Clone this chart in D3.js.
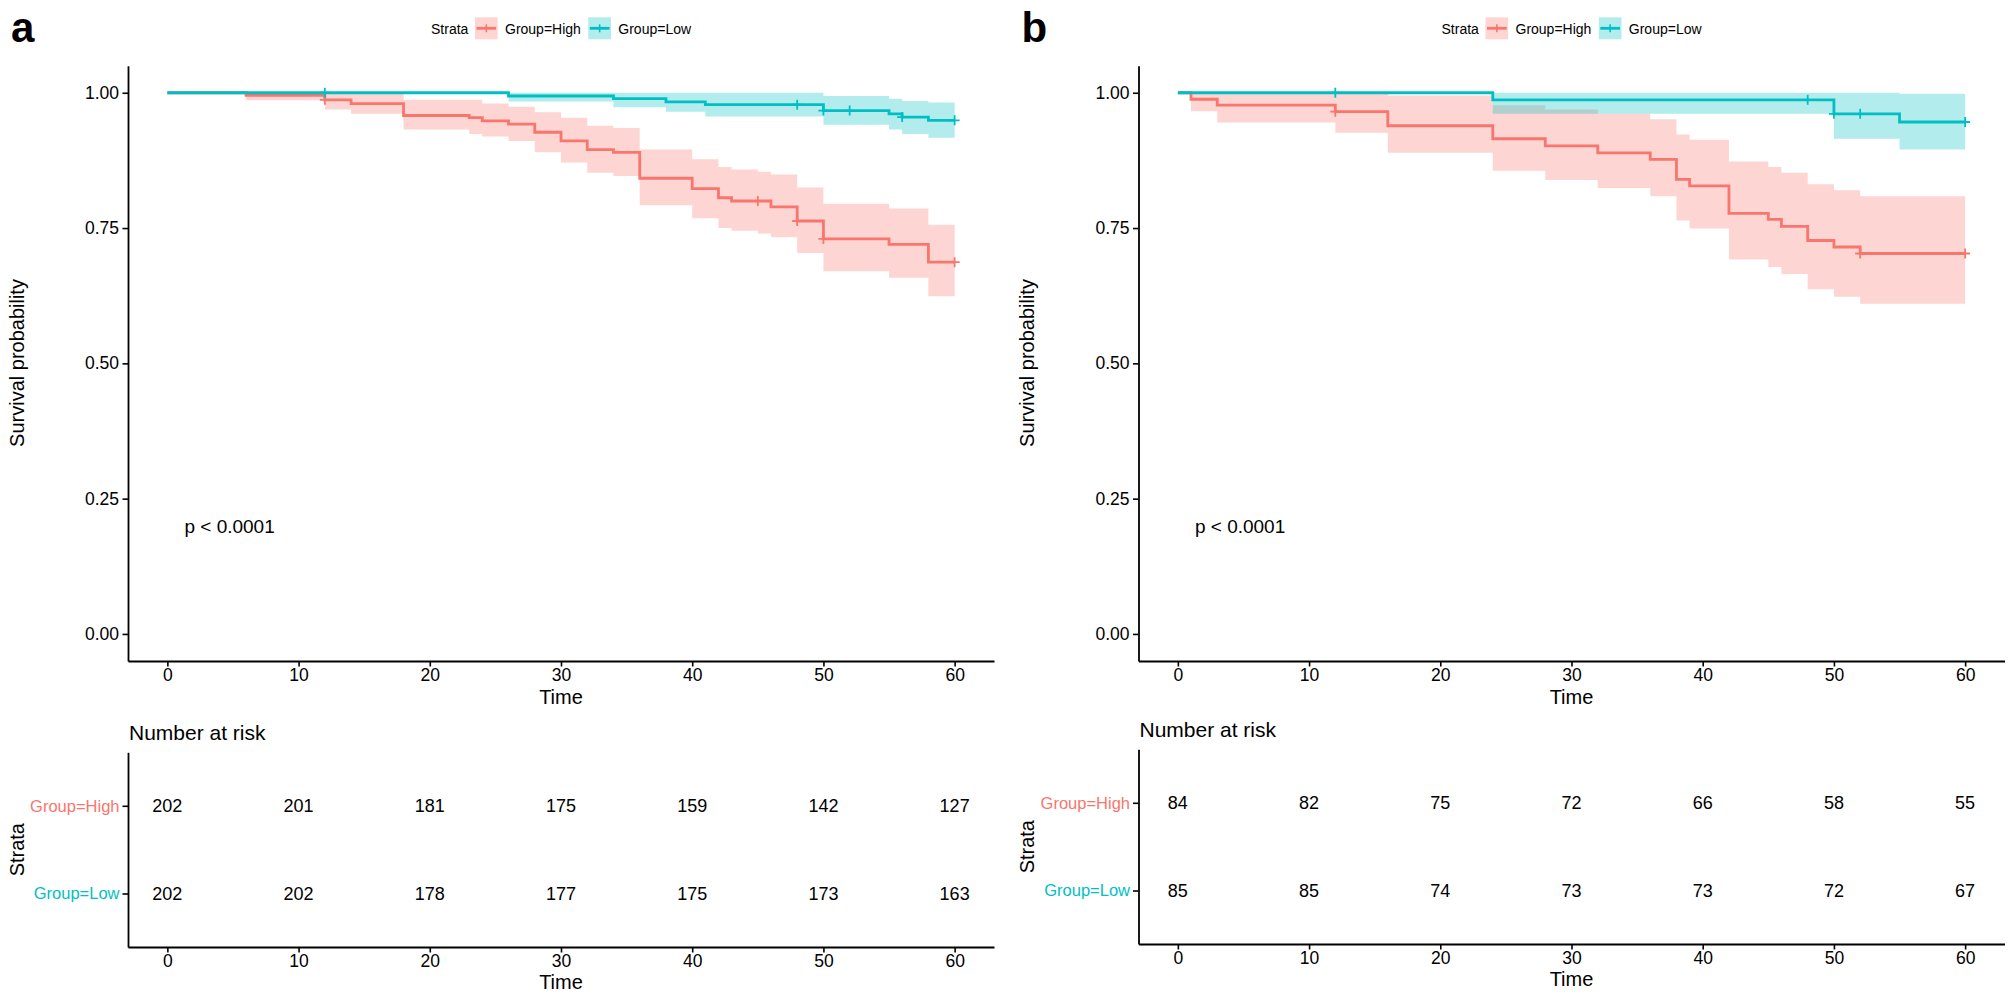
<!DOCTYPE html>
<html><head><meta charset="utf-8">
<script src="https://cdn.jsdelivr.net/npm/d3@7"></script>
<style>
body{margin:0;background:#fff}
svg{display:block}
text{font-family:"Liberation Sans",Arial,sans-serif}
</style>
</head><body>
<script>
// ---------- DATA ----------
const timeTicks = [0, 10, 20, 30, 40, 50, 60];
const survTicks = [0, 0.25, 0.5, 0.75, 1];
const strata = ["Group=High", "Group=Low"];
const endTime = 60;
const pText = "p < 0.0001";

// Panel a – Group=High
const aHighTime  = [0, 6, 12, 14, 18, 23, 24, 26, 28, 30, 32, 34, 36, 40, 42, 43, 45, 46, 48, 50, 55, 58];
const aHighSurv  = [1, .995, .987, .980, .958, .954, .948, .942, .927, .911, .895, .890, .842, .823, .806, .800, .800, .789, .763, .730, .720, .687];
const aHighUpper = [1, .998, .998, .998, .987, .987, .980, .974, .964, .954, .939, .935, .895, .877, .863, .858, .854, .849, .825, .795, .786, .756];
const aHighLower = [1, .986, .969, .961, .932, .924, .919, .911, .890, .871, .852, .846, .792, .768, .750, .745, .740, .733, .704, .670, .658, .624];
const aHighCensor = [12, 45, 48, 50, 60];
// Panel a – Group=Low
const aLowTime  = [0, 26, 34, 38, 41, 50, 55, 56, 58];
const aLowSurv  = [1, .994, .989, .983, .978, .967, .961, .955, .949];
const aLowUpper = [1, 1, 1, 1, 1, .994, .989, .985, .982];
const aLowLower = [1, .984, .973, .965, .956, .941, .932, .924, .917];
const aLowCensor = [12, 48, 50, 52, 56, 60];
// Panel b – Group=High
const bHighTime  = [0, 1, 3, 12, 16, 24, 28, 32, 36, 38, 39, 42, 45, 46, 48, 50, 52];
const bHighSurv  = [1, .988, .977, .965, .939, .915, .902, .889, .877, .840, .828, .777, .766, .753, .727, .715, .703];
const bHighUpper = [1, 1, 1, 1, .995, .977, .969, .961, .951, .923, .913, .873, .863, .852, .831, .820, .809];
const bHighLower = [1, .966, .945, .926, .889, .856, .839, .824, .809, .764, .749, .692, .678, .665, .637, .623, .610];
const bHighCensor = [12, 52, 60];
// Panel b – Group=Low
const bLowTime  = [0, 24, 50, 55];
const bLowSurv  = [1, .987, .961, .946];
const bLowUpper = [1, 1, 1, .998];
const bLowLower = [1, .961, .915, .895];
const bLowCensor = [12, 48, 50, 52, 60];

// Number at risk
const aRiskHigh = [202, 201, 181, 175, 159, 142, 127];
const aRiskLow  = [202, 202, 178, 177, 175, 173, 163];
const bRiskHigh = [84, 82, 75, 72, 66, 58, 55];
const bRiskLow  = [85, 85, 74, 73, 73, 72, 67];

// ---------- DRAW ----------
const PINK = "#F8766D", TEAL = "#00BFC4";
const W = 2008, H = 1004;
const svg = d3.select("body").append("svg").attr("width", W).attr("height", H);

function survAt(time, surv, t) {
  let v = surv[0];
  for (let i = 0; i < time.length; i++) if (time[i] <= t) v = surv[i];
  return v;
}

function styleAxis(sel, fs) {
  sel.select(".domain").attr("stroke", "#000").attr("stroke-width", 1.8);
  sel.selectAll(".tick line").attr("stroke", "#000").attr("stroke-width", 1.6);
  sel.selectAll(".tick text").attr("fill", "#000").attr("font-size", fs)
     .attr("font-family", '"Liberation Sans", Arial, sans-serif');
}

function panel(cfg) {
  const ox = cfg.ox, dy = cfg.riskDy;
  const g = svg.append("g");
  const x = d3.scaleLinear().domain([-3, 63]).range([128 + ox, 994 + ox]);
  const y = d3.scaleLinear().domain([-0.05, 1.05]).range([661, 65.7]);

  // panel letter
  g.append("text").attr("x", 11 + ox).attr("y", 41.5).attr("font-size", 42)
    .attr("font-weight", "bold").text(cfg.letter);

  // legend
  const lg = g.append("g").attr("transform", `translate(${ox},0)`);
  lg.append("text").attr("x", 431).attr("y", 34).attr("font-size", 14).text("Strata");
  const keyX = [475, 588.3], labX = [505, 618.3];
  cfg.groups.forEach((gr, i) => {
    lg.append("rect").attr("x", keyX[i]).attr("y", 17.3).attr("width", 22.7).attr("height", 22)
      .attr("fill", gr.color).attr("fill-opacity", 0.3);
    lg.append("line").attr("x1", keyX[i] + 1.5).attr("x2", keyX[i] + 21.2).attr("y1", 28.3).attr("y2", 28.3)
      .attr("stroke", gr.color).attr("stroke-width", 2.8);
    lg.append("line").attr("x1", keyX[i] + 11.35).attr("x2", keyX[i] + 11.35).attr("y1", 24.3).attr("y2", 32.3)
      .attr("stroke", gr.color).attr("stroke-width", 1.6);
    lg.append("text").attr("x", labX[i]).attr("y", 34).attr("font-size", 14).text(strata[i]);
  });

  // ribbons
  cfg.groups.forEach(gr => {
    const pts = gr.time.map((t, i) => ({t, u: gr.upper[i], l: gr.lower[i]}));
    const last = pts[pts.length - 1];
    pts.push({t: endTime, u: last.u, l: last.l});
    const area = d3.area().curve(d3.curveStepAfter)
      .x(d => x(d.t)).y0(d => y(d.l)).y1(d => y(d.u));
    g.append("path").attr("d", area(pts)).attr("fill", gr.color).attr("fill-opacity", 0.3);
  });
  // survival steps
  cfg.groups.forEach(gr => {
    const pts = gr.time.map((t, i) => ({t, s: gr.surv[i]}));
    pts.push({t: endTime, s: gr.surv[gr.surv.length - 1]});
    const line = d3.line().curve(d3.curveStepAfter).x(d => x(d.t)).y(d => y(d.s));
    g.append("path").attr("d", line(pts)).attr("fill", "none")
      .attr("stroke", gr.color).attr("stroke-width", 2.8);
  });
  // censor marks
  cfg.groups.forEach(gr => {
    gr.censor.forEach(t => {
      const cx = x(t), cy = y(survAt(gr.time, gr.surv, t));
      g.append("path").attr("d", `M${cx - 5},${cy}H${cx + 5}M${cx},${cy - 5}V${cy + 5}`)
        .attr("stroke", gr.color).attr("stroke-width", 1.8).attr("fill", "none");
    });
  });

  // axes
  const ax = g.append("g").attr("transform", "translate(0,661)")
    .call(d3.axisBottom(x).tickValues(timeTicks).tickSize(5.5).tickSizeOuter(0).tickPadding(2.3));
  styleAxis(ax, 17.5);
  const ay = g.append("g").attr("transform", `translate(${128 + ox},0)`)
    .call(d3.axisLeft(y).tickValues(survTicks).tickFormat(d3.format(".2f")).tickSize(5.5).tickSizeOuter(0).tickPadding(3.5));
  styleAxis(ay, 17.5);

  g.append("text").attr("x", (x(-3) + x(63)) / 2).attr("y", 704).attr("text-anchor", "middle")
    .attr("font-size", 20).text("Time");
  g.append("text").attr("transform", `translate(${23.5 + ox},363) rotate(-90)`)
    .attr("text-anchor", "middle").attr("font-size", 20).text("Survival probability");
  g.append("text").attr("x", x(1.3)).attr("y", y(0.2) + 7.5).attr("font-size", 19).text(pText);

  // ---- risk table ----
  const ry = d3.scaleLinear().domain([0.39, 2.61]).range([947 + dy, 752.3 + dy]);
  g.append("text").attr("x", 129 + ox).attr("y", 740 + dy).attr("font-size", 21).text("Number at risk");
  const rowPos = [2, 1];
  cfg.risk.forEach((arr, i) => {
    arr.forEach((n, j) => {
      g.append("text").attr("x", x(timeTicks[j])).attr("y", ry(rowPos[i]) + 6.5)
        .attr("text-anchor", "middle").attr("font-size", 18).text(n);
    });
  });
  const rax = g.append("g").attr("transform", `translate(0,${947 + dy})`)
    .call(d3.axisBottom(x).tickValues(timeTicks).tickSize(5.5).tickSizeOuter(0).tickPadding(2.3));
  styleAxis(rax, 17.5);
  const ray = g.append("g").attr("transform", `translate(${128 + ox},0)`)
    .call(d3.axisLeft(ry).tickValues(rowPos).tickFormat((d, i) => strata[i]).tickSize(5.5).tickSizeOuter(0).tickPadding(3));
  styleAxis(ray, 16.5);
  ray.selectAll(".tick text").attr("fill", (d, i) => cfg.groups[i].color);
  g.append("text").attr("x", (x(-3) + x(63)) / 2).attr("y", 989 + dy).attr("text-anchor", "middle")
    .attr("font-size", 20).text("Time");
  g.append("text").attr("transform", `translate(${23.5 + ox},${849.7 + dy}) rotate(-90)`)
    .attr("text-anchor", "middle").attr("font-size", 20).text("Strata");
}

panel({
  letter: "a", ox: 0, riskDy: 0,
  groups: [
    {color: PINK, time: aHighTime, surv: aHighSurv, upper: aHighUpper, lower: aHighLower, censor: aHighCensor},
    {color: TEAL, time: aLowTime, surv: aLowSurv, upper: aLowUpper, lower: aLowLower, censor: aLowCensor}
  ],
  risk: [aRiskHigh, aRiskLow]
});
panel({
  letter: "b", ox: 1010.5, riskDy: -3,
  groups: [
    {color: PINK, time: bHighTime, surv: bHighSurv, upper: bHighUpper, lower: bHighLower, censor: bHighCensor},
    {color: TEAL, time: bLowTime, surv: bLowSurv, upper: bLowUpper, lower: bLowLower, censor: bLowCensor}
  ],
  risk: [bRiskHigh, bRiskLow]
});
</script>
</body></html>
